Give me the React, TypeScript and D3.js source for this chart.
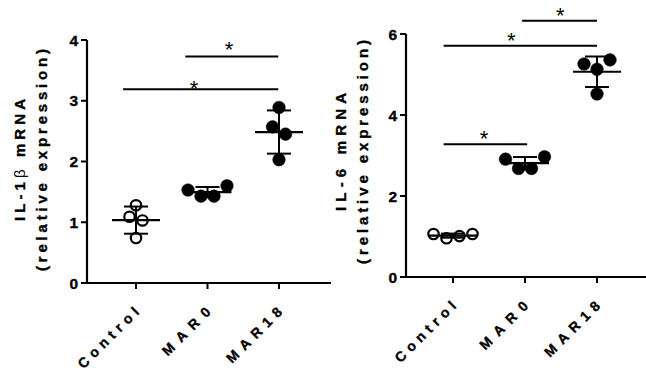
import React from 'react';
import * as d3 from 'd3';

// groups shown on both panels
const categories = ['Control', 'MAR0', 'MAR18'];

// IL-1β mRNA (relative expression), 4 replicates per group
const il1bControl = [1.28, 1.09, 1.03, 0.74];
const il1bMar0 = [1.53, 1.43, 1.43, 1.6];
const il1bMar18 = [2.89, 2.57, 2.45, 2.03];
const il1bTicks = [0, 1, 2, 3, 4];

// IL-6 mRNA (relative expression)
const il6Control = [1.06, 0.955, 1.01, 1.06];
const il6Mar0 = [2.91, 2.68, 2.68, 2.97];
const il6Mar18 = [5.26, 5.13, 5.36, 4.52];
const il6Ticks = [0, 2, 4, 6];

// significance bars: x in group-index units, y in data units
const il1bSig = [
  { from: -0.18, to: 1.99, y: 3.19, starX: 0.81, starY: 3.29 },
  { from: 0.69, to: 1.99, y: 3.73, starX: 1.3, starY: 3.92 },
];
const il6Sig = [
  { from: -0.13, to: 1.03, y: 3.28, starX: 0.43, starY: 3.55 },
  { from: -0.13, to: 2.0, y: 5.71, starX: 0.81, starY: 5.97 },
  { from: 0.96, to: 2.0, y: 6.33, starX: 1.49, starY: 6.57 },
];

const FONT = 'Arial, "Liberation Sans", Helvetica, sans-serif';
const labelLen: Record<string, number> = { Control: 80, MAR0: 62, MAR18: 72 };

type Sig = { from: number; to: number; y: number; starX: number; starY: number };

// prism-like horizontal spreading of points that sit close together
function spread(values: number[], y: (v: number) => number, gap = 13, step = 13) {
  const order = values.map((_, i) => i).sort((a, b) => values[a] - values[b]);
  const groups: number[][] = [];
  let cur: number[] = [];
  let start = 0;
  order.forEach((i) => {
    const py = y(values[i]);
    if (cur.length && Math.abs(py - start) > gap) {
      groups.push(cur);
      cur = [];
    }
    if (!cur.length) start = py;
    cur.push(i);
  });
  if (cur.length) groups.push(cur);
  const off = values.map(() => 0);
  groups.forEach((g) => {
    g.sort((a, b) => a - b);
    g.forEach((i, k) => (off[i] = (k - (g.length - 1) / 2) * step));
  });
  return off;
}

const bold = { fontWeight: 'bold', fontFamily: FONT, stroke: '#000', strokeWidth: 0.35 } as const;

function Panel(props: {
  axisX: number;
  top: number;
  bottom: number;
  xFirst: number;
  xLast: number;
  axisEnd: number;
  yMax: number;
  ticks: number[];
  groups: number[][];
  sig: Sig[];
  title: React.ReactNode;
  titleLen: number;
  subLen: number;
  titleX: number;
  titleY: number;
}) {
  const { axisX, top, bottom, xFirst, xLast, axisEnd, yMax, ticks, groups, sig } = props;
  const y = d3.scaleLinear().domain([0, yMax]).range([bottom, top]);
  const x = d3.scalePoint<string>().domain(categories).range([xFirst, xLast]);
  const xi = d3.scaleLinear().domain([0, categories.length - 1]).range([xFirst, xLast]);

  return (
    <g>
      {/* y axis */}
      <line x1={axisX} x2={axisX} y1={top} y2={bottom} stroke="#000" strokeWidth={2.2} />
      {ticks.map((t) => (
        <g key={t}>
          <line x1={axisX - 6} x2={axisX} y1={y(t)} y2={y(t)} stroke="#000" strokeWidth={2} />
          <text x={axisX - 9} y={y(t)} dy="0.36em" textAnchor="end" fontSize={15.5} {...bold}>
            {t}
          </text>
        </g>
      ))}
      {/* x axis */}
      <line x1={axisX - 1} x2={axisEnd} y1={bottom} y2={bottom} stroke="#000" strokeWidth={2.2} />
      {categories.map((c) => (
        <g key={c}>
          <line x1={x(c)} x2={x(c)} y1={bottom} y2={bottom + 6} stroke="#000" strokeWidth={2} />
          <text
            transform={`translate(${(x(c) as number) + 4},${bottom + 30}) rotate(-45)`}
            textAnchor="end"
            fontSize={14}
            {...bold}
            textLength={labelLen[c]}
            lengthAdjust="spacing"
          >
            {c}
          </text>
        </g>
      ))}
      {/* y title */}
      <g transform={`translate(${props.titleX},${props.titleY}) rotate(-90)`}>
        <text y={0} textAnchor="middle" fontSize={15} {...bold} textLength={props.titleLen} lengthAdjust="spacing">
          {props.title}
        </text>
        <text y={22} textAnchor="middle" fontSize={15} {...bold} textLength={props.subLen} lengthAdjust="spacing">
          (relative expression)
        </text>
      </g>
      {/* points + mean ± SD */}
      {groups.map((vals, gi) => {
        const cx = x(categories[gi]) as number;
        const off = spread(vals, y);
        const m = d3.mean(vals) as number;
        const sd = d3.deviation(vals) as number;
        const open = gi === 0;
        return (
          <g key={gi}>
            {vals.map((v, i) => (
              <circle
                key={i}
                cx={cx + off[i]}
                cy={y(v)}
                r={open ? 5.2 : 6.3}
                fill={open ? '#fff' : '#000'}
                stroke="#000"
                strokeWidth={open ? 2.2 : 0.5}
              />
            ))}
            <line x1={cx} x2={cx} y1={y(m + sd)} y2={y(m - sd)} stroke="#000" strokeWidth={2} />
            <line x1={cx - 24} x2={cx + 24} y1={y(m)} y2={y(m)} stroke="#000" strokeWidth={2.2} />
            <line x1={cx - 12} x2={cx + 12} y1={y(m + sd)} y2={y(m + sd)} stroke="#000" strokeWidth={2} />
            <line x1={cx - 12} x2={cx + 12} y1={y(m - sd)} y2={y(m - sd)} stroke="#000" strokeWidth={2} />
          </g>
        );
      })}
      {/* significance */}
      {sig.map((s, i) => (
        <g key={i}>
          <line x1={xi(s.from)} x2={xi(s.to)} y1={y(s.y)} y2={y(s.y)} stroke="#000" strokeWidth={2} />
          <text x={xi(s.starX)} y={y(s.starY) + 12.5} textAnchor="middle" fontSize={22} fontFamily={FONT}>
            *
          </text>
        </g>
      ))}
    </g>
  );
}

export default function App() {
  return (
    <svg width={646} height={374} style={{ position: 'absolute', left: 0, top: 0, background: '#fff' }}>
      <Panel
        axisX={87}
        top={40}
        bottom={283}
        xFirst={136}
        xLast={279}
        axisEnd={331}
        yMax={4}
        ticks={il1bTicks}
        groups={[il1bControl, il1bMar0, il1bMar18]}
        sig={il1bSig}
        title={
          <>
            IL-1<tspan fontWeight="normal" stroke="none">β</tspan> mRNA
          </>
        }
        titleLen={122}
        subLen={222}
        titleX={25}
        titleY={160}
      />
      <Panel
        axisX={406}
        top={34}
        bottom={277}
        xFirst={453}
        xLast={597}
        axisEnd={650}
        yMax={6}
        ticks={il6Ticks}
        groups={[il6Control, il6Mar0, il6Mar18]}
        sig={il6Sig}
        title="IL-6 mRNA"
        titleLen={118}
        subLen={224}
        titleX={346}
        titleY={152}
      />
    </svg>
  );
}
